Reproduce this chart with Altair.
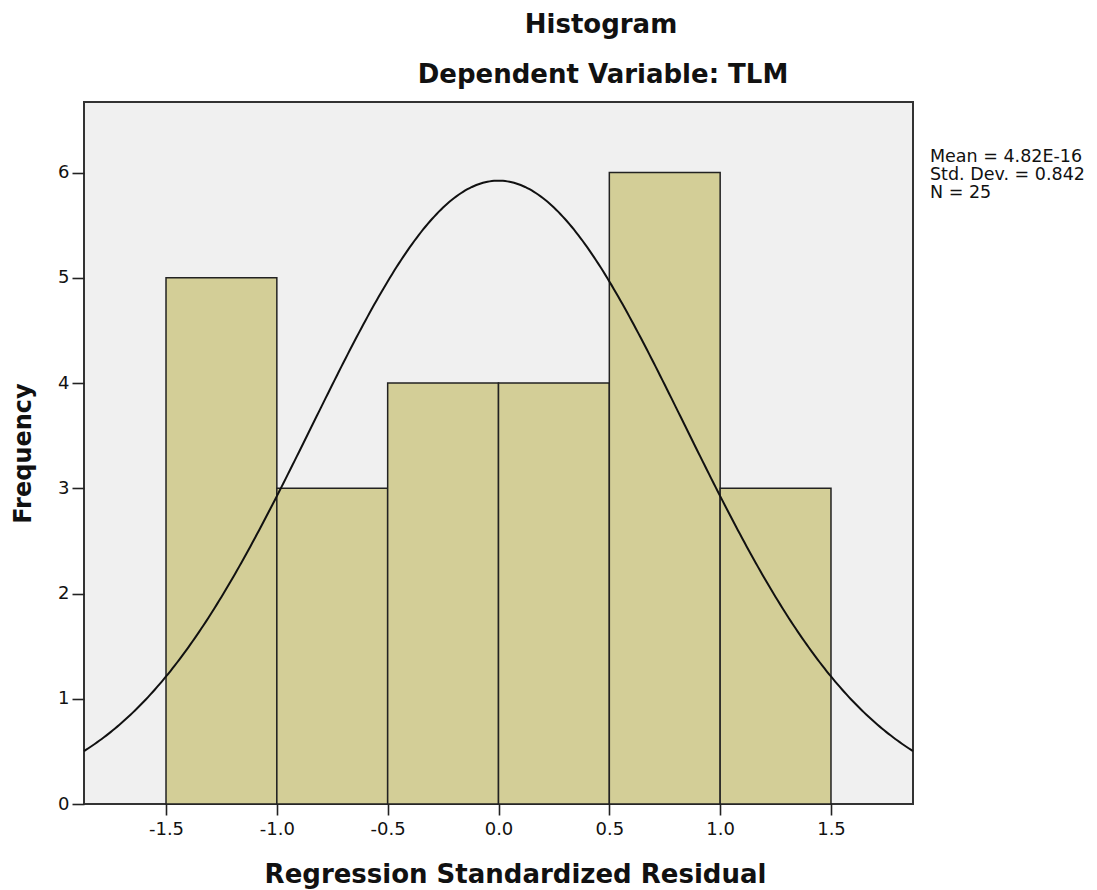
import altair as alt
import pandas as pd

# Histogram bins (Regression Standardized Residual) and frequencies
bin_start = [-1.5, -1.0, -0.5, 0.0, 0.5, 1.0]
bin_end = [-1.0, -0.5, 0.0, 0.5, 1.0, 1.5]
frequency = [5, 3, 4, 4, 6, 3]

# Fitted normal curve parameters (from the legend)
mean_val = 4.82e-16
std_dev = 0.842
n_obs = 25
bin_width = 0.5

x_ticks = [-1.5, -1.0, -0.5, 0.0, 0.5, 1.0, 1.5]
y_ticks = [0, 1, 2, 3, 4, 5, 6]
x_domain = [-1.87, 1.87]
y_domain = [0, 6.67]

stats_lines = ["Mean = 4.82E-16", "Std. Dev. = 0.842", "N = 25"]
title_main = "Histogram"
title_sub = "Dependent Variable: TLM"

bars_df = pd.DataFrame({"start": bin_start, "end": bin_end, "count": frequency})

FONT = "DejaVu Sans"

x_scale = alt.Scale(domain=x_domain, nice=False, zero=False)
y_scale = alt.Scale(domain=y_domain, nice=False)

x_axis = alt.Axis(
    title="Regression Standardized Residual",
    values=x_ticks, labelExpr="replace(format(datum.value, '.1f'), '\u2212', '-')",
    grid=False, domain=False,
    tickSize=11, tickWidth=1.6, tickColor="#222", labelPadding=5,
    labelFontSize=18, labelFont=FONT, labelColor="#111",
    titleFont=FONT, titleFontSize=26, titleFontWeight="bold", titleColor="#111",
    titleX=431, titleY=78, titleBaseline="alphabetic", titleAlign="center",
)
y_axis = alt.Axis(
    title="Frequency",
    values=y_ticks, format="d", grid=False, domain=False,
    tickSize=12, tickWidth=1.6, tickColor="#222", labelPadding=3,
    labelFontSize=18, labelFont=FONT, labelColor="#111",
    titleFont=FONT, titleFontSize=24, titleFontWeight="bold", titleColor="#111",
    titleX=-54, titleY=351, titleBaseline="alphabetic", titleAlign="center", titleAngle=270,
)

bars = alt.Chart(bars_df).mark_rect(
    color="#d3ce97", stroke="#222", strokeWidth=1.5
).encode(
    x=alt.X("start:Q", scale=x_scale, axis=x_axis),
    x2="end:Q",
    y=alt.Y("count:Q", scale=y_scale, axis=y_axis),
    y2=alt.datum(0),
)

curve = alt.Chart(alt.sequence(x_domain[0], x_domain[1] + 0.005, 0.01, as_="x")).transform_calculate(
    y=f"{n_obs} * {bin_width} / ({std_dev} * sqrt(2 * PI)) * exp(-0.5 * pow((datum.x - {mean_val}) / {std_dev}, 2))"
).mark_line(color="#111", strokeWidth=2).encode(
    x=alt.X("x:Q", scale=x_scale),
    y=alt.Y("y:Q", scale=y_scale),
)

one = pd.DataFrame({"k": [0]})

t_main = alt.Chart(one).mark_text(
    text=title_main, font=FONT, fontSize=26, fontWeight="bold", color="#111",
    align="center", baseline="alphabetic",
).encode(x=alt.value(517), y=alt.value(-69))

t_sub = alt.Chart(one).mark_text(
    text=title_sub, font=FONT, fontSize=26, fontWeight="bold", color="#111",
    align="center", baseline="alphabetic",
).encode(x=alt.value(519), y=alt.value(-19))

t_stats = alt.Chart(one).mark_text(
    text=stats_lines, font=FONT, fontSize=17.5, color="#111", lineHeight=18,
    align="left", baseline="alphabetic",
).encode(x=alt.value(846), y=alt.value(60))

chart = alt.layer(bars, curve, t_main, t_sub, t_stats).properties(
    width=829, height=702,
    autosize=alt.AutoSizeParams(type="none"),
    padding={"left": 76, "top": 94, "right": 176, "bottom": 86},
    background="white",
).configure_view(
    fill="#f0f0f0", stroke="#333", strokeWidth=2,
)

chart.save("out.html", embed_options={"renderer": "svg", "actions": False})
